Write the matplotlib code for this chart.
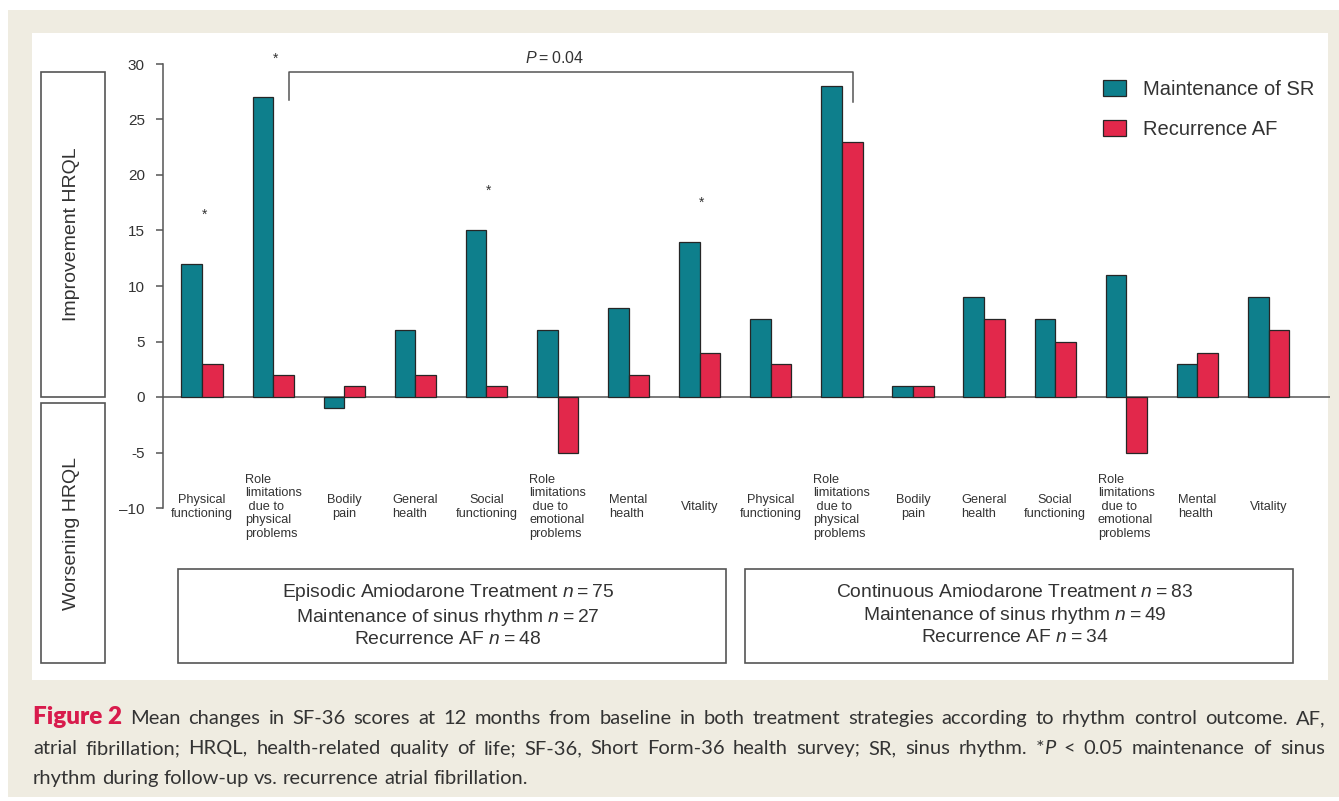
import matplotlib
matplotlib.use('Agg')
import matplotlib.pyplot as plt
from matplotlib.patches import Rectangle
import numpy as np

W, H = 1339, 801
plt.rcParams['font.family'] = ['Liberation Sans', 'DejaVu Sans']
plt.rcParams['mathtext.fontset'] = 'custom'
plt.rcParams['mathtext.rm'] = 'Liberation Sans'
plt.rcParams['mathtext.it'] = 'Liberation Sans:italic'

# ---------------- data ----------------
categories = [
    "Physical\nfunctioning",
    "Role\nlimitations\n due to\nphysical\nproblems",
    "Bodily\npain",
    "General\nhealth",
    "Social\nfunctioning",
    "Role\nlimitations\n due to\nemotional\nproblems",
    "Mental\nhealth",
    "Vitality",
] * 2
label_align = ['center', 'left', 'center', 'left', 'center', 'left', 'left', 'center'] * 2

series_names = ["Maintenance of SR", "Recurrence AF"]
sr_values = [12, 27, -1, 6, 15, 6, 8, 14, 7, 28, 1, 9, 7, 11, 3, 9]
af_values = [3, 2, 1, 2, 1, -5, 2, 4, 3, 23, 1, 7, 5, -5, 4, 6]

star_groups = [0, 1, 4, 7]
star_heights = [16.4, 30.5, 18.6, 17.5]

bracket_groups = (1, 9)
bracket_text = "$P$\u2009=\u20090.04"

yticks = [-10, -5, 0, 5, 10, 15, 20, 25, 30]
ytick_labels = ["\u201310", "-5", "0", "5", "10", "15", "20", "25", "30"]

side_labels = ["Improvement HRQL", "Worsening HRQL"]
group_texts = [
    "Episodic Amiodarone Treatment $n$\u2009=\u200975\nMaintenance of sinus rhythm $n$\u2009=\u200927\nRecurrence AF $n$\u2009=\u200948",
    "Continuous Amiodarone Treatment $n$\u2009=\u200983\nMaintenance of sinus rhythm $n$\u2009=\u200949\nRecurrence AF $n$\u2009=\u200934",
]

TEAL = "#0E7F8C"
RED = "#E2284B"
GRAY = "#555555"
TXT = "#333333"
BEIGE = "#EFECE1"
CAP_RED = "#D81B4C"


def fx(px):
    return px / W


def fy(py):
    return 1 - py / H


fig = plt.figure(figsize=(W / 100, H / 100), dpi=100)
fig.patch.set_facecolor('white')
fig.add_artist(Rectangle((fx(8), fy(797)), fx(1339 - 8), (797 - 10) / H,
                         transform=fig.transFigure, facecolor=BEIGE,
                         edgecolor='none', zorder=-20))
fig.add_artist(Rectangle((fx(32), fy(680)), fx(1328 - 32), (680 - 33) / H,
                         transform=fig.transFigure, facecolor='white',
                         edgecolor='none', zorder=-19))

ax = fig.add_axes([fx(163), fy(508), (1330 - 163) / W, (508 - 64) / H])
ax.patch.set_alpha(0)

x = np.arange(len(categories))
bw = 0.29
b1 = ax.bar(x, sr_values, width=-bw, align='edge', color=TEAL,
            edgecolor='#262626', linewidth=0.9, label=series_names[0], zorder=3)
b2 = ax.bar(x, af_values, width=bw, align='edge', color=RED,
            edgecolor='#262626', linewidth=0.9, label=series_names[1], zorder=3)

ax.set_xlim(-0.549, 15.865)
ax.set_ylim(-10, 30)
ax.axhline(0, color=GRAY, lw=1.1, zorder=2)
for s in ['top', 'right', 'bottom']:
    ax.spines[s].set_visible(False)
ax.spines['left'].set_color(GRAY)
ax.spines['left'].set_linewidth(1.1)
ax.set_xticks([])
ax.set_yticks(yticks)
ax.set_yticklabels(ytick_labels)
ax.tick_params(axis='y', direction='out', length=5, width=1.1, color=GRAY,
               pad=8, labelsize=11, labelcolor=TXT)

# category labels
for i, (lab, al) in enumerate(zip(categories, label_align)):
    ax.text(i, -9.9, lab, ha='center', va='center', multialignment=al,
            fontsize=9.2, color=TXT, linespacing=1.17, clip_on=False)

# significance stars
for g, h in zip(star_groups, star_heights):
    ax.text(g + 0.03, h, "*", ha='center', va='center', fontsize=10,
            color=TXT, clip_on=False)

# P bracket
bl = bracket_groups[0] + 0.22
br = bracket_groups[1] + 0.16
ax.plot([bl, bl, br, br], [26.8, 29.3, 29.3, 26.6], color=GRAY, lw=1.1,
        clip_on=False, zorder=4)
ax.text(bl + (br - bl) * 0.47, 30.5, bracket_text, ha='center', va='center',
        fontsize=11.5, color=TXT, clip_on=False)

# legend
ax.legend(handles=[b1, b2], loc='upper left',
          bbox_to_anchor=(fx(1103), fy(80)), bbox_transform=fig.transFigure,
          frameon=False, fontsize=14.5, handlelength=1.15, handleheight=0.85,
          handletextpad=0.85, labelspacing=1.05, borderpad=0, borderaxespad=0,
          labelcolor=TXT)

# side boxes
side_boxes = [(41, 72, 105, 397), (41, 403, 105, 663)]
for (x0, y0, x1, y1), lab in zip(side_boxes, side_labels):
    fig.add_artist(Rectangle((fx(x0), fy(y1)), (x1 - x0) / W, (y1 - y0) / H,
                             transform=fig.transFigure, facecolor='none',
                             edgecolor=GRAY, lw=1.2))
    fig.text(fx((x0 + x1) / 2 - 2), fy((y0 + y1) / 2), lab, rotation=90,
             ha='center', va='center', fontsize=14, color=TXT)

# bottom group boxes
group_boxes = [(178, 569, 726, 663), (745, 569, 1293, 663)]
for (x0, y0, x1, y1), lab in zip(group_boxes, group_texts):
    fig.add_artist(Rectangle((fx(x0), fy(y1)), (x1 - x0) / W, (y1 - y0) / H,
                             transform=fig.transFigure, facecolor='none',
                             edgecolor=GRAY, lw=1.2))
    fig.text(fx((x0 + x1) / 2 - 4), fy((y0 + y1) / 2 - 1), lab, ha='center',
             va='center', fontsize=13.9, color=TXT, linespacing=1.28,
             multialignment='center')

# caption with justified lines
CAP_FONT = 'Lato'
cap_size = 14.5
reg = dict(family=CAP_FONT, fontsize=cap_size, color=TXT)
bold = dict(family=CAP_FONT, fontsize=cap_size + 3, color=CAP_RED, weight='heavy')
ital = dict(family=CAP_FONT, fontsize=cap_size, color=TXT, style='italic')

line1 = [[("Figure 2", bold)]] + [[(w, reg)] for w in
         "Mean changes in SF-36 scores at 12 months from baseline in both treatment strategies according to rhythm control outcome. AF,".split()]
line2_words = "atrial fibrillation; HRQL, health-related quality of life; SF-36, Short Form-36 health survey; SR, sinus rhythm.".split()
line2 = [[(w, reg)] for w in line2_words] + [[("*", reg), ("P", ital)], [("<", reg)], [("0.05", reg)]] + \
        [[(w, reg)] for w in "maintenance of sinus".split()]
line3 = [[(w, reg)] for w in "rhythm during follow-up vs. recurrence atrial fibrillation.".split()]

renderer = fig.canvas.get_renderer()


def measure(s, p):
    t = fig.text(0, 0, s, ha='left', va='baseline', **p)
    w = t.get_window_extent(renderer).width
    return t, w


_t, w2 = measure("x x", reg)
_t.remove()
_t, w1 = measure("xx", reg)
_t.remove()
space_w = w2 - w1


def draw_line(words, x0, ybase, width=None):
    items = []
    total = 0
    for word in words:
        pieces = []
        ww = 0
        for s, p in word:
            t, w = measure(s, p)
            pieces.append((t, w))
            ww += w
        items.append((pieces, ww))
        total += ww
    if width is not None and len(items) > 1:
        gap = (width - total) / (len(items) - 1)
    else:
        gap = space_w
    cx = x0
    for pieces, ww in items:
        px = cx
        for t, w in pieces:
            t.set_position((fx(px), fy(ybase)))
            px += w
        cx += ww + gap
    return gap


g1 = draw_line(line1, 33, 724, width=1325 - 33)
g2 = draw_line(line2, 33, 754, width=1325 - 33)
draw_line(line3, 33, 784)
print("gaps", g1, g2, space_w)

fig.savefig("out.png", dpi=100, facecolor=fig.get_facecolor())
